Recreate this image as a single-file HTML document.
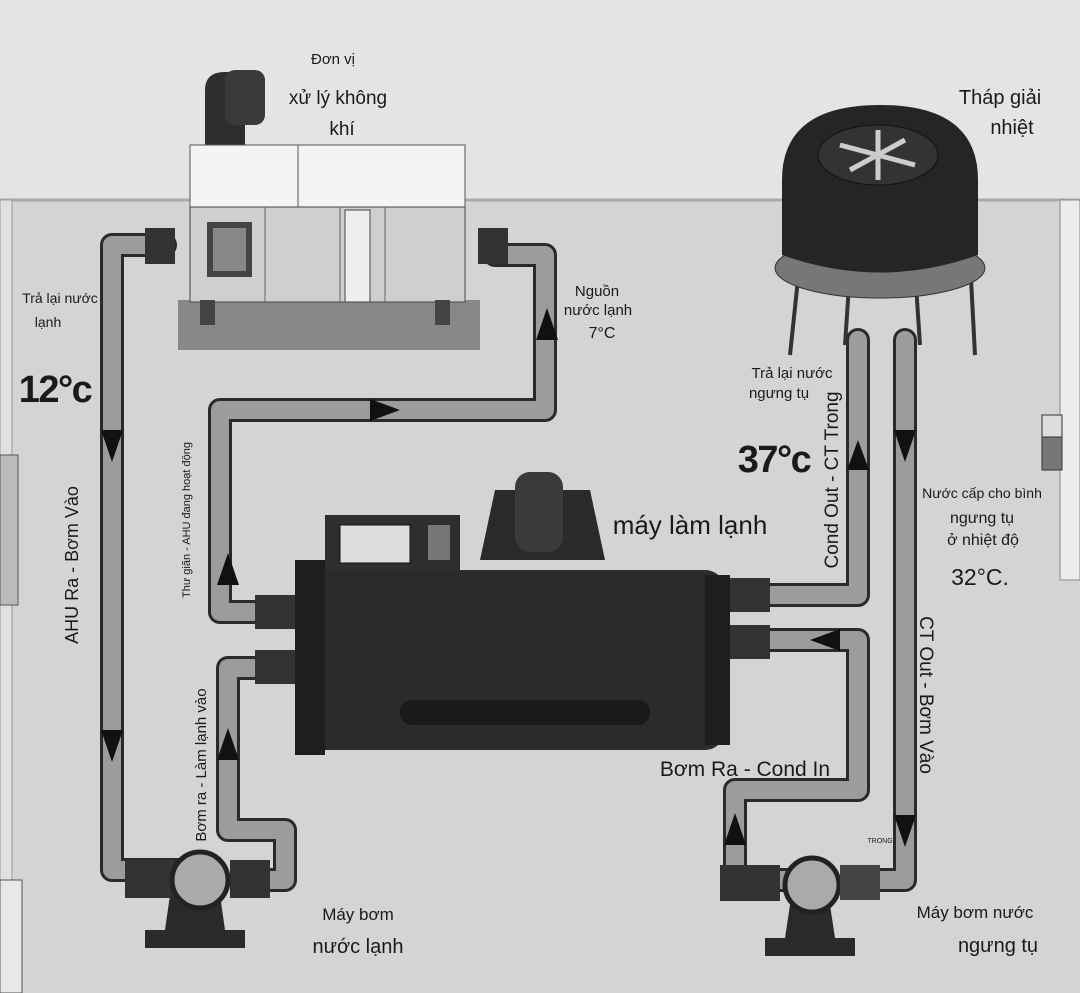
<!DOCTYPE html>
<html><head><meta charset="utf-8"><style>
body{margin:0;width:1080px;height:993px;overflow:hidden;background:#d6d6d6;font-family:"Liberation Sans","DejaVu Sans",sans-serif}
svg{display:block}
text{font-family:"Liberation Sans","DejaVu Sans",sans-serif;fill:#1a1a1a}
</style></head><body>
<svg width="1080" height="993" viewBox="0 0 1080 993" xmlns="http://www.w3.org/2000/svg">
<rect width="1080" height="993" fill="#d4d4d4"/>
<rect width="1080" height="200" fill="#e4e4e4"/>
<line x1="0" y1="200" x2="1080" y2="200" stroke="#aaa" stroke-width="3"/>
<rect x="0" y="200" width="12" height="793" fill="#e0e0e0" stroke="#999"/>
<rect x="0" y="455" width="18" height="150" fill="#bbb" stroke="#555"/>
<rect x="0" y="880" width="22" height="113" fill="#e8e8e8" stroke="#555"/>
<rect x="1060" y="200" width="20" height="380" fill="#ececec" stroke="#888"/>
<rect x="1042" y="415" width="20" height="55" fill="#777" stroke="#333"/>
<rect x="1042" y="415" width="20" height="22" fill="#ddd" stroke="#333"/>

<!-- pipes -->
<g fill="none" stroke-linejoin="round" stroke-linecap="round">
<g stroke="#2a2a2a" stroke-width="24">
<path d="M165 245 H112 V870 H185"/>
<path d="M240 880 H285 V830 H228 V668 H275"/>
<path d="M275 612 H220 V410 H545 V255 H495"/>
<path d="M745 595 H858 V340"/>
<path d="M905 340 V880 H870"/>
<path d="M790 880 H735 V790 H858 V640 H745"/>
</g>
<g stroke="#9c9c9c" stroke-width="18">
<path d="M165 245 H112 V870 H185"/>
<path d="M240 880 H285 V830 H228 V668 H275"/>
<path d="M275 612 H220 V410 H545 V255 H495"/>
<path d="M745 595 H858 V340"/>
<path d="M905 340 V880 H870"/>
<path d="M790 880 H735 V790 H858 V640 H745"/>
</g>
</g>
<!-- flanges -->
<g fill="#333">
<rect x="145" y="228" width="30" height="36"/><rect x="478" y="228" width="30" height="36"/>
<rect x="255" y="595" width="40" height="34"/><rect x="255" y="650" width="40" height="34"/>
<rect x="730" y="578" width="40" height="34"/><rect x="730" y="625" width="40" height="34"/>
<rect x="125" y="860" width="60" height="38"/><rect x="230" y="860" width="40" height="38"/>
<rect x="720" y="865" width="60" height="36"/>
</g>
<!-- arrows -->
<g fill="#111">
<polygon points="101,430 123,430 112,462"/>
<polygon points="101,730 123,730 112,762"/>
<polygon points="217,585 239,585 228,553"/>
<polygon points="217,760 239,760 228,728"/>
<polygon points="536,340 558,340 547,308"/>
<polygon points="370,399 370,421 400,410"/>
<polygon points="847,470 869,470 858,440"/>
<polygon points="894,430 916,430 905,462"/>
<polygon points="894,815 916,815 905,847"/>
<polygon points="840,629 840,651 810,640"/>
<polygon points="724,845 746,845 735,813"/>
</g>

<!-- AHU -->
<rect x="178" y="300" width="302" height="50" fill="#888"/>
<path d="M205 160 V90 Q205 72 225 72 H245 V160 Z" fill="#2e2e2e"/>
<rect x="225" y="70" width="40" height="55" rx="10" fill="#3a3a3a"/>
<rect x="190" y="145" width="275" height="62" fill="#f4f4f4" stroke="#555"/>
<line x1="298" y1="145" x2="298" y2="207" stroke="#555"/>
<rect x="190" y="207" width="275" height="95" fill="#cfcfcf" stroke="#444"/>
<line x1="265" y1="207" x2="265" y2="302" stroke="#666"/><line x1="340" y1="207" x2="340" y2="302" stroke="#666"/><line x1="385" y1="207" x2="385" y2="302" stroke="#666"/>
<rect x="207" y="222" width="45" height="55" fill="#444"/><rect x="213" y="228" width="33" height="43" fill="#888"/>
<rect x="345" y="210" width="25" height="92" fill="#eee" stroke="#444"/>
<rect x="200" y="300" width="15" height="25" fill="#444"/><rect x="435" y="300" width="15" height="25" fill="#444"/>

<!-- tower -->
<g stroke="#333" stroke-width="4"><line x1="800" y1="260" x2="790" y2="355"/><line x1="970" y1="260" x2="975" y2="355"/><line x1="850" y1="270" x2="845" y2="345"/><line x1="915" y1="270" x2="920" y2="345"/></g>
<ellipse cx="880" cy="268" rx="105" ry="30" fill="#777" stroke="#333"/>
<path d="M782 255 V180 Q782 105 880 105 Q978 105 978 180 V255 Q880 290 782 255 Z" fill="#252525"/>
<ellipse cx="878" cy="155" rx="60" ry="30" fill="#333" stroke="#111"/>
<g stroke="#ccc" stroke-width="5"><line x1="840" y1="145" x2="915" y2="165"/><line x1="850" y1="170" x2="905" y2="140"/><line x1="878" y1="130" x2="878" y2="180"/></g>

<!-- chiller -->
<rect x="325" y="515" width="135" height="60" fill="#2e2e2e"/>
<rect x="340" y="525" width="70" height="38" fill="#ddd" stroke="#111"/>
<rect x="428" y="525" width="22" height="35" fill="#777"/>
<path d="M480 560 L495 490 H590 L605 560 Z" fill="#2a2a2a"/>
<rect x="515" y="472" width="48" height="80" rx="15" fill="#3a3a3a"/>
<rect x="295" y="570" width="430" height="180" rx="20" fill="#2b2b2b"/>
<rect x="295" y="560" width="30" height="195" fill="#1e1e1e"/>
<rect x="705" y="575" width="25" height="170" fill="#1e1e1e"/>
<rect x="400" y="700" width="250" height="25" rx="12" fill="#1a1a1a"/>

<!-- pumps -->
<rect x="145" y="930" width="100" height="18" fill="#2a2a2a"/>
<path d="M165 930 L170 895 H220 L225 930 Z" fill="#2a2a2a"/>
<circle cx="200" cy="880" r="28" fill="#aaa" stroke="#222" stroke-width="5"/>
<rect x="765" y="938" width="90" height="18" fill="#2a2a2a"/>
<path d="M785 938 L790 905 H830 L835 938 Z" fill="#2a2a2a"/>
<circle cx="812" cy="885" r="27" fill="#aaa" stroke="#222" stroke-width="5"/>
<rect x="840" y="865" width="40" height="35" fill="#444"/>

<!-- labels -->
<g text-anchor="middle">
<text x="333" y="64" font-size="15">Đơn vị</text>
<text x="338" y="104" font-size="19">xử lý không</text>
<text x="342" y="135" font-size="19">khí</text>
<text x="1000" y="104" font-size="20">Tháp giải</text>
<text x="1012" y="134" font-size="20">nhiệt</text>
<text x="60" y="303" font-size="14">Trả lại nước</text>
<text x="48" y="327" font-size="14">lạnh</text>
<text x="55" y="402" font-size="38" font-weight="bold" letter-spacing="-1.5">12°c</text>
<text x="597" y="296" font-size="15">Nguồn</text>
<text x="598" y="315" font-size="15">nước lạnh</text>
<text x="602" y="338" font-size="16">7°C</text>
<text x="792" y="378" font-size="15">Trả lại nước</text>
<text x="779" y="398" font-size="15">ngưng tụ</text>
<text x="774" y="472" font-size="38" font-weight="bold" letter-spacing="-1.5">37°c</text>
<text x="690" y="534" font-size="26">máy làm lạnh</text>
<text x="982" y="498" font-size="14">Nước cấp cho bình</text>
<text x="982" y="523" font-size="16">ngưng tụ</text>
<text x="983" y="545" font-size="16">ở nhiệt độ</text>
<text x="980" y="585" font-size="23">32°C.</text>
<text x="745" y="776" font-size="21">Bơm Ra - Cond In</text>
<text x="358" y="920" font-size="17">Máy bơm</text>
<text x="358" y="953" font-size="20">nước lạnh</text>
<text x="975" y="918" font-size="17">Máy bơm nước</text>
<text x="998" y="952" font-size="20">ngưng tụ</text>
<text x="880" y="843" font-size="7">TRONG</text>
<text transform="translate(78,565) rotate(-90)" font-size="18">AHU Ra - Bơm Vào</text>
<text transform="translate(190,520) rotate(-90)" font-size="11">Thư giãn - AHU đang hoạt động</text>
<text transform="translate(206,765) rotate(-90)" font-size="15">Bơm ra - Làm lạnh vào</text>
<text transform="translate(838,480) rotate(-90)" font-size="19">Cond Out - CT Trong</text>
<text transform="translate(920,695) rotate(90)" font-size="19">CT Out - Bơm Vào</text>
</g>
</svg>
</body></html>
